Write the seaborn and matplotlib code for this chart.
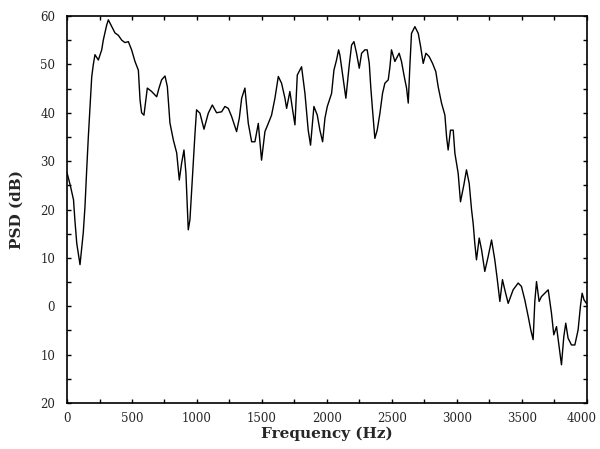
import matplotlib
matplotlib.use("Agg")
import matplotlib.pyplot as plt
import matplotlib.transforms as mtransforms
import seaborn as sns
import pandas as pd
from matplotlib.ticker import MultipleLocator

freq_hz = [0, 25, 50, 60, 75, 100, 125, 138, 151, 164, 177, 190, 202, 215, 241, 267, 279, 305, 318,
           344, 369, 395, 421, 446, 472, 497, 523, 549, 562, 574, 592, 618, 651, 690, 708, 728, 754,
           772, 792, 818, 844, 864, 882, 900, 915, 933, 946, 959, 972, 985, 997, 1023, 1054, 1087,
           1118, 1151, 1190, 1215, 1241, 1267, 1305, 1326, 1344, 1369, 1395, 1421, 1446, 1472, 1497,
           1523, 1549, 1574, 1600, 1626, 1651, 1677, 1690, 1715, 1736, 1754, 1772, 1805, 1831, 1856,
           1874, 1900, 1926, 1946, 1967, 1985, 2003, 2036, 2054, 2074, 2090, 2100, 2126, 2146, 2172,
           2190, 2208, 2228, 2249, 2267, 2292, 2310, 2326, 2338, 2351, 2369, 2387, 2408, 2428, 2446,
           2472, 2485, 2497, 2523, 2556, 2574, 2595, 2613, 2626, 2638, 2651, 2677, 2703, 2721, 2741,
           2762, 2787, 2813, 2838, 2856, 2882, 2908, 2921, 2933, 2951, 2972, 2985, 3010, 3028, 3054,
           3074, 3095, 3113, 3126, 3138, 3151, 3172, 3190, 3215, 3241, 3267, 3292, 3310, 3331, 3351,
           3369, 3395, 3433, 3472, 3497, 3523, 3549, 3569, 3587, 3600, 3613, 3633, 3651, 3677, 3703,
           3728, 3746, 3767, 3787, 3805, 3823, 3838, 3856, 3882, 3908, 3933, 3951, 3964, 3979, 3997]
psd_db = [27.6, 25, 22, 18, 13, 8.6, 15.2, 20.5, 28, 35, 41.2, 47.4, 49.9, 52, 50.9, 53, 55, 58.1, 59.2,
          57.8, 56.5, 56, 55, 54.5, 54.7, 53, 50.6, 48.8, 42.6, 40, 39.5, 45.1, 44.4, 43.3, 45.1, 46.8, 47.6,
          45.4, 37.9, 34.4, 31.7, 26.1, 29.6, 32.3, 27.5, 15.8, 17.9, 24, 30.3, 35.8, 40.6, 39.9, 36.6, 39.9,
          41.6, 40.0, 40.2, 41.3, 40.9, 39.2, 36.1, 38.9, 43, 45.1, 37.8, 34, 34, 37.8, 30.2,
          36.1, 37.8, 39.5, 43, 47.5, 46.1, 43, 40.9, 44.4, 40.6, 37.5, 47.8, 49.5, 44, 36.4,
          33.3, 41.3, 39.5, 36.4, 34, 38.9, 41.3, 44, 48.8, 50.9, 53, 51.9, 46.8, 43, 49.9,
          54, 54.7, 52.3, 49.2, 52.3, 53, 53, 50.2, 45.1, 40.6, 34.7, 36.4, 39.9, 44, 46.1,
          46.8, 49.5, 53, 50.6, 52.3, 50.6, 47.5, 45.1, 42, 49.5, 56.4, 57.8, 56.4, 53.7, 50.2,
          52.3, 51.6, 50.2, 48.5, 45.4, 42, 39.5, 35, 32.3, 36.4, 36.4, 31.6, 27.5, 21.6, 25.1,
          28.2, 25.4, 20, 17, 13, 9.6, 14.1, 11.7, 7.2, 10.3, 13.7, 9.6, 5.8, 1.0, 5.5,
          3.4, 0.6, 3.4, 4.8, 4.1, 1.3, -2.1, -4.9, -6.9, 1.0, 5.1, 1.0, 2.0, 2.7, 3.4,
          -1.4, -5.9, -4.2, -8.3, -12.1, -6.3, -3.5, -6.6, -8, -8, -4.9, 0, 2.7, 1.3, 0.6]

x_ticks = [0, 500, 1000, 1500, 2000, 2500, 3000, 3500, 4000]
x_tick_labels = ["0", "500", "1000", "1500", "2000", "2500", "3000", "3500", "4000"]
y_ticks = [-20, -10, 0, 10, 20, 30, 40, 50, 60]
y_tick_labels = ["20", "10", "0", "10", "20", "30", "40", "50", "60"]
x_label = "Frequency (Hz)"
y_label = "PSD (dB)"

sns.set_style("ticks")
plt.rcParams["font.family"] = ["DejaVu Serif", "Liberation Serif"]

df = pd.DataFrame({"freq": freq_hz, "psd": psd_db})

fig = plt.figure(figsize=(6, 4.49), dpi=100)
ax = fig.add_axes([0.1117, 0.1024, 0.8663, 0.862])
sns.lineplot(data=df, x="freq", y="psd", ax=ax, color="black", linewidth=1.0,
             estimator=None, sort=False)

ax.set_xlim(0, 4000)
ax.set_ylim(-20, 60)
ax.set_xticks(x_ticks)
ax.set_xticklabels(x_tick_labels)
ax.set_yticks(y_ticks)
ax.set_yticklabels(y_tick_labels)
ax.xaxis.set_minor_locator(MultipleLocator(250))
ax.yaxis.set_minor_locator(MultipleLocator(5))
ax.tick_params(which="both", direction="in", top=True, right=True, length=3, width=1,
               color="black")
ax.tick_params(axis="x", labelsize=8.5, pad=6.5)
ax.tick_params(axis="y", labelsize=8.5, pad=8.5)
ax.set_xlabel(x_label, fontsize=11, fontweight="bold", labelpad=1)
ax.set_ylabel(y_label, fontsize=11, fontweight="bold")
ax.yaxis.set_label_coords(-0.083, 0.5)
for s in ax.spines.values():
    s.set_linewidth(1.2)
    s.set_color("black")

# nudge the last x tick label so it stays inside the figure
last = ax.get_xticklabels()[-1]
last.set_transform(last.get_transform() +
                   mtransforms.ScaledTranslation(-4 / 72, 0, fig.dpi_scale_trans))

fig.savefig("out.png", dpi=100)
